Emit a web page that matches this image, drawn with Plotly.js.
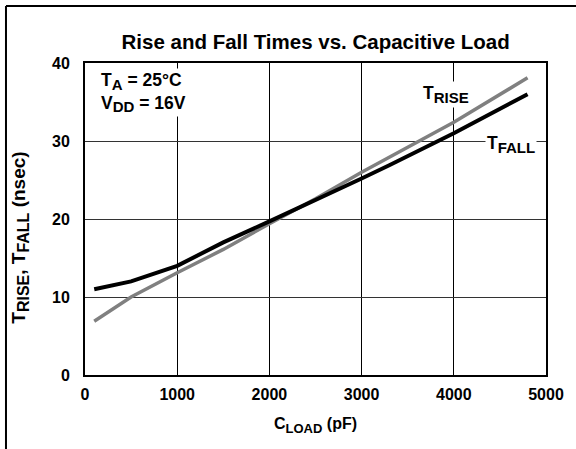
<!DOCTYPE html>
<html>
<head>
<meta charset="utf-8">
<script src="https://cdn.plot.ly/plotly-3.0.1.min.js"></script>
<style>
  html, body { margin: 0; padding: 0; background: #fff; }
  #chart { width: 576px; height: 449px; }
</style>
</head>
<body>
<div id="chart"></div>
<script>
// Data
const cLoadFall = [100, 500, 1000, 1500, 2000, 2500, 3000, 3300, 4000, 4800];
const tFall     = [11.0, 12.0, 14.0, 17.0, 19.7, 22.4, 25.2, 26.9, 31.0, 36.0];
const cLoadRise = [100, 500, 1000, 1500, 2000, 2500, 3000, 4000, 4800];
const tRise     = [6.9, 10.0, 13.1, 16.1, 19.4, 22.6, 26.0, 32.4, 38.1];
const xTicks = [0, 1000, 2000, 3000, 4000, 5000];
const yTicks = [0, 10, 20, 30, 40];

const FONT = 'Liberation Sans, Arial, Helvetica, sans-serif';
function sub(t, px) { return '<sub><span style="font-size:' + px + 'px">' + t + '</span></sub>'; }

const traces = [
  { x: cLoadRise, y: tRise, mode: 'lines', type: 'scatter', name: 'TRISE',
    line: { color: '#808080', width: 3.5 }, hoverinfo: 'skip' },
  { x: cLoadFall, y: tFall, mode: 'lines', type: 'scatter', name: 'TFALL',
    line: { color: '#000000', width: 4 }, hoverinfo: 'skip' }
];

const layout = {
  width: 576, height: 449,
  margin: { l: 85, r: 30, t: 63, b: 74, pad: 0 },
  paper_bgcolor: '#ffffff', plot_bgcolor: '#ffffff',
  showlegend: false,
  font: { family: FONT, color: '#000', size: 15 },
  title: {
    text: '<b>Rise and Fall Times vs. Capacitive Load</b>',
    font: { family: FONT, size: 20.5, color: '#000' },
    x: 0.548, xanchor: 'center', y: 0.907, yanchor: 'middle'
  },
  xaxis: {
    range: [0, 5000], tickvals: xTicks, ticktext: xTicks.map(v => '<b>' + v + '</b>'),
    ticks: '', showgrid: true, gridcolor: '#000', gridwidth: 1,
    showline: true, linecolor: '#000', linewidth: 2, mirror: true,
    zeroline: false, fixedrange: true, ticklabelstandoff: 4,
    tickfont: { family: FONT, size: 16, color: '#000' },
    title: { text: '<b>C' + sub('LOAD', 13) + ' (pF)</b>', font: { family: FONT, size: 16, color: '#000' }, standoff: 16 }
  },
  yaxis: {
    range: [0, 40], tickvals: yTicks, ticktext: yTicks.map(v => '<b>' + v + '</b>'),
    ticks: '', showgrid: true, gridcolor: '#333', gridwidth: 1,
    showline: true, linecolor: '#000', linewidth: 2, mirror: true,
    zeroline: false, fixedrange: true, ticklabelstandoff: 10,
    tickfont: { family: FONT, size: 16, color: '#000' }
  },
  annotations: [
    { x: -0.141, y: 0.44, xref: 'paper', yref: 'paper', xanchor: 'center', yanchor: 'middle',
      textangle: -90, showarrow: false,
      text: '<b>T' + sub('RISE', 16) + ', T' + sub('FALL', 16) + ' (nsec)</b>',
      font: { family: FONT, size: 19, color: '#000' } },
    { x: 150, y: 39.4, xref: 'x', yref: 'y', xanchor: 'left', yanchor: 'top', align: 'left',
      text: '<b>T' + sub('A', 15) + ' = 25°C<br>V' + sub('DD', 15) + ' = 16V</b>', showarrow: false,
      bgcolor: '#fff', font: { family: FONT, size: 17.5, color: '#000' } },
    { x: 3915, y: 36.0, xref: 'x', yref: 'y', xanchor: 'center', yanchor: 'middle',
      text: '<b>T' + sub('RISE', 15) + '</b>', showarrow: false, bgcolor: '#fff',
      font: { family: FONT, size: 17.5, color: '#000' } },
    { x: 4620, y: 29.6, xref: 'x', yref: 'y', xanchor: 'center', yanchor: 'middle',
      text: '<b>T' + sub('FALL', 15) + '</b>', showarrow: false, bgcolor: '#fff',
      font: { family: FONT, size: 17.5, color: '#000' } }
  ],
  shapes: [
    { type: 'line', xref: 'paper', yref: 'paper', x0: -0.1714, x1: 1.07, y0: 1.1827, y1: 1.1827,
      line: { color: '#000', width: 2 } },
    { type: 'line', xref: 'paper', yref: 'paper', x0: -0.1714, x1: -0.1714, y0: 1.1827, y1: -0.25,
      line: { color: '#000', width: 2 } }
  ]
};

Plotly.newPlot('chart', traces, layout, { staticPlot: true, displayModeBar: false });
</script>
</body>
</html>
